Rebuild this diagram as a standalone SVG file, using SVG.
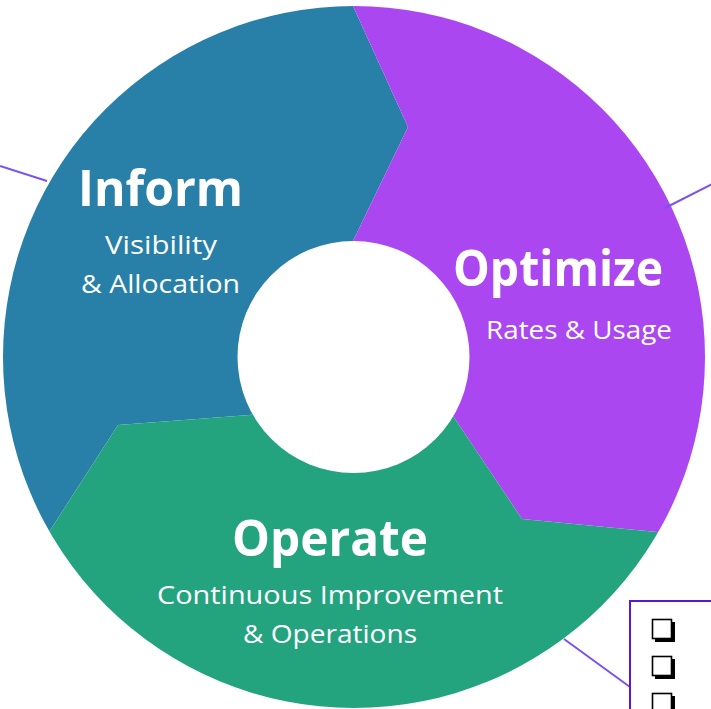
<svg xmlns="http://www.w3.org/2000/svg" width="711" height="709" viewBox="0 0 711 709">
<style>
.title{font-family:"Open Sans","Noto Sans",sans-serif;font-weight:700;font-size:51px;fill:#fff;text-anchor:middle}
.sub{font-family:"Open Sans","Noto Sans",sans-serif;font-weight:400;font-size:26px;fill:#fff;text-anchor:middle}
.conn{stroke:#7a52f2;stroke-width:2;fill:none}
.sh{fill:#000}
.cb{fill:#fff;stroke:#000;stroke-width:1.6}
</style>
<defs>
<clipPath id="ring"><circle cx="354" cy="357" r="351"/></clipPath>
</defs>
<rect width="711" height="709" fill="#fff"/>
<g clip-path="url(#ring)">
<g id="inform">
<polygon fill="#2880a9" points="354,357 250,415 118,425 49,532 -36,582 -60,582 -60,-60 353,-60 353,6 408,127 353,241"/>
</g>
<g id="optimize">
<polygon fill="#ab47f1" points="354,357 353,241 408,127 353,6 353,-60 780,-60 780,582 744,582 657,532 522,519 453,416"/>
</g>
<g id="operate">
<polygon fill="#24a47e" points="354,357 453,416 522,519 657,532 744,582 780,582 780,780 -60,780 -60,582 -36,582 49,532 118,425 250,415"/>
</g>
</g>
<circle cx="353.5" cy="357" r="116" fill="#fff"/>
<g id="inform-text">
<text class="title" x="160.5" y="206" textLength="165" lengthAdjust="spacingAndGlyphs">Inform</text>
<text class="sub" x="161" y="254" textLength="112" lengthAdjust="spacingAndGlyphs">Visibility</text>
<text class="sub" x="160.5" y="293" textLength="159" lengthAdjust="spacingAndGlyphs">&amp; Allocation</text>
</g>
<g id="optimize-text">
<text class="title" x="558" y="286" textLength="210" lengthAdjust="spacingAndGlyphs">Optimize</text>
<text class="sub" x="579" y="339" textLength="186" lengthAdjust="spacingAndGlyphs">Rates &amp; Usage</text>
</g>
<g id="operate-text">
<text class="title" x="330" y="556" textLength="196" lengthAdjust="spacingAndGlyphs">Operate</text>
<text class="sub" x="330" y="604" textLength="346" lengthAdjust="spacingAndGlyphs">Continuous Improvement</text>
<text class="sub" x="330" y="643" textLength="174" lengthAdjust="spacingAndGlyphs">&amp; Operations</text>
</g>
<g id="connectors">
<line class="conn" x1="0" y1="166" x2="47" y2="181"/>
<line class="conn" x1="665" y1="208" x2="712" y2="184"/>
<line class="conn" x1="564" y1="639" x2="630" y2="687"/>
</g>
<g id="checklist">
<rect x="630" y="601" width="100" height="120" fill="#fff" stroke="#5c17c8" stroke-width="2"/>
<rect class="sh" x="655" y="622" width="20" height="20"/>
<rect class="cb" x="652.5" y="619.5" width="19" height="19"/>
<rect class="sh" x="655" y="659" width="20" height="20"/>
<rect class="cb" x="652.5" y="656.5" width="19" height="19"/>
<rect class="sh" x="655" y="696" width="20" height="20"/>
<rect class="cb" x="652.5" y="693.5" width="19" height="19"/>
</g>
</svg>
